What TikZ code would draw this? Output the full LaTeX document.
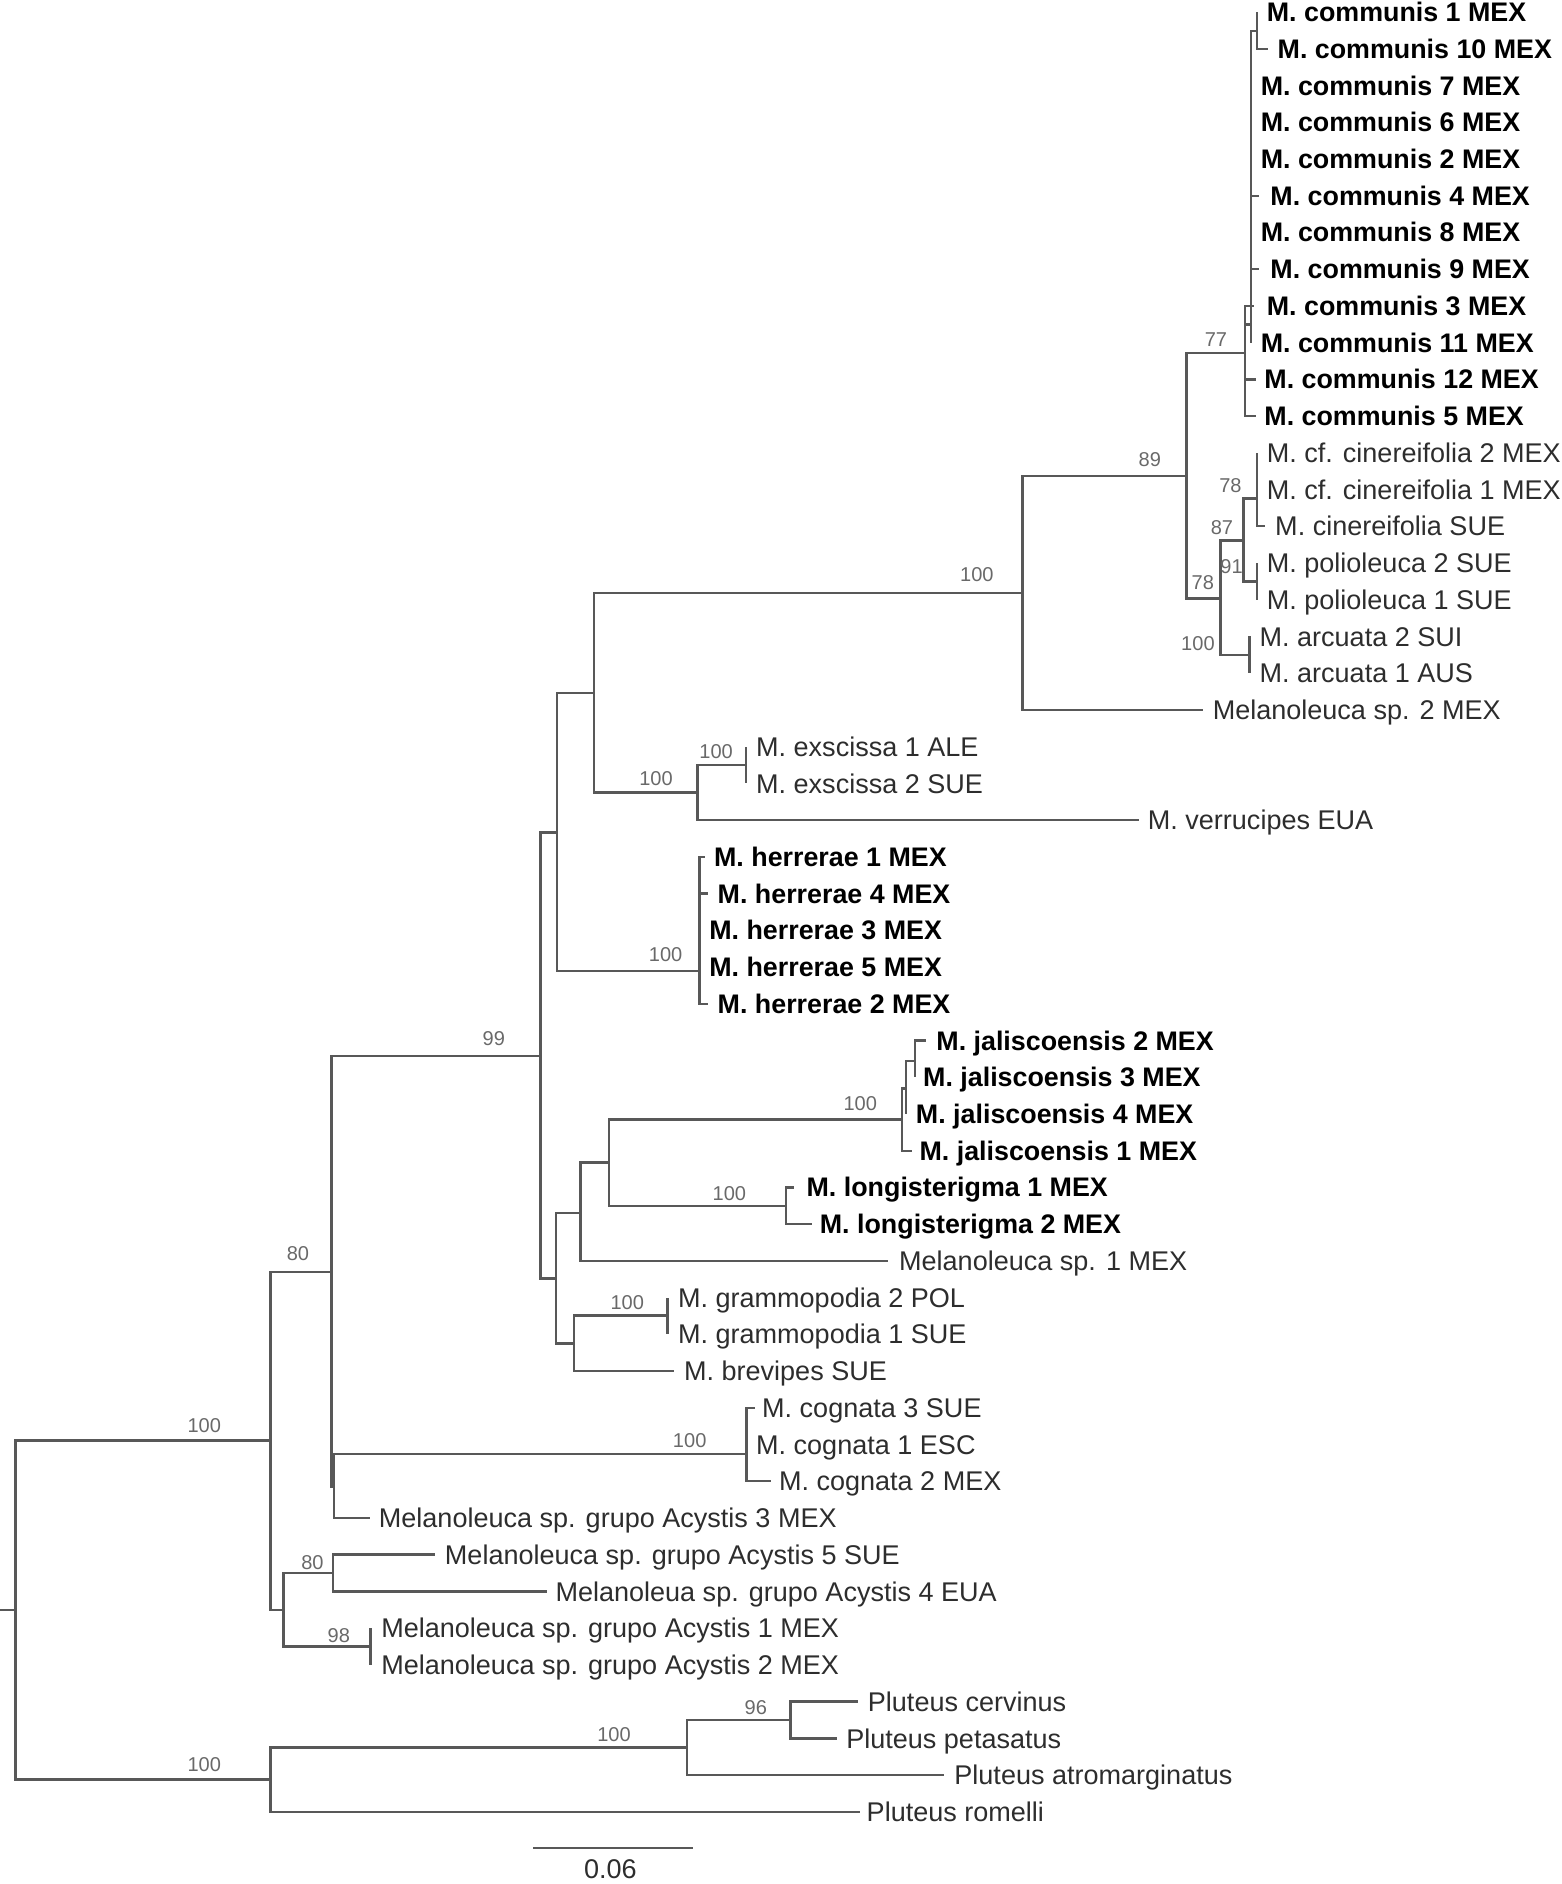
\documentclass[tikz,border=0pt]{standalone}
\usepackage{fontspec}
\setmainfont{Liberation Sans}
\definecolor{linec}{RGB}{88,88,88}
\definecolor{bsc}{RGB}{105,105,105}
\definecolor{txtc}{RGB}{45,45,45}
\newcommand{\lf}[6]{\coordinate (#1) at (#2,#3);\node[#6] (#1t) at ({#4-1},#3) {#5};}
\newcommand{\ed}[2]{\draw[br] (#1) |- (#2);}
\begin{document}
\begin{tikzpicture}[x=0.6pt,y=-0.6pt,
  br/.style={draw=linec,line width=1.2pt,line join=miter},
  leafr/.style={anchor=west,inner sep=0pt,font=\fontsize{13.5pt}{16pt}\selectfont,text=txtc,text height=9.6pt,text depth=0pt},
  leafb/.style={anchor=west,inner sep=0pt,font=\fontsize{13.4pt}{16pt}\selectfont\bfseries,text=black,text height=9.6pt,text depth=0pt},
  bs/.style={inner sep=0pt,font=\fontsize{10pt}{12pt}\selectfont,text=bsc,text height=7.2pt,text depth=0pt}]
\useasboundingbox (0,0) rectangle (1300,1568);

% ---------- leaves ----------
\lf{comm1}{1046}{10.0}{1055}{M. communis 1 MEX}{leafb}
\lf{comm10}{1055}{40.6}{1064}{M. communis 10 MEX}{leafb}
\lf{comm7}{1041}{71.1}{1050}{M. communis 7 MEX}{leafb}
\lf{comm6}{1041}{101.7}{1050}{M. communis 6 MEX}{leafb}
\lf{comm2}{1041}{132.3}{1050}{M. communis 2 MEX}{leafb}
\lf{comm4}{1048}{162.9}{1058}{M. communis 4 MEX}{leafb}
\lf{comm8}{1041}{193.4}{1050}{M. communis 8 MEX}{leafb}
\lf{comm9}{1048}{224.0}{1058}{M. communis 9 MEX}{leafb}
\lf{comm3}{1044}{254.6}{1055}{M. communis 3 MEX}{leafb}
\lf{comm11}{1041}{285.1}{1050}{M. communis 11 MEX}{leafb}
\lf{comm12}{1045}{315.7}{1053}{M. communis 12 MEX}{leafb}
\lf{comm5}{1045}{346.3}{1053}{M. communis 5 MEX}{leafb}
\lf{cfca}{1046}{376.8}{1055}{M. cf. cinereifolia 2 MEX}{leafr}
\lf{cfcb}{1046}{407.4}{1055}{M. cf. cinereifolia 1 MEX}{leafr}
\lf{cins}{1053}{438.0}{1062}{M. cinereifolia SUE}{leafr}
\lf{pola}{1046}{468.6}{1055}{M. polioleuca 2 SUE}{leafr}
\lf{polb}{1046}{499.1}{1055}{M. polioleuca 1 SUE}{leafr}
\lf{arca}{1040}{529.7}{1049}{M. arcuata 2 SUI}{leafr}
\lf{arcb}{1040}{560.3}{1049}{M. arcuata 1 AUS}{leafr}
\lf{sptwo}{1001}{590.8}{1010}{Melanoleuca sp. 2 MEX}{leafr}
\lf{exsa}{621}{621.4}{630}{M. exscissa 1 ALE}{leafr}
\lf{exsb}{621}{652.0}{630}{M. exscissa 2 SUE}{leafr}
\lf{verr}{948}{682.5}{956}{M. verrucipes EUA}{leafr}
\lf{herra}{587}{713.1}{595}{M. herrerae 1 MEX}{leafb}
\lf{herrd}{589}{743.7}{598}{M. herrerae 4 MEX}{leafb}
\lf{herrc}{582}{774.3}{591}{M. herrerae 3 MEX}{leafb}
\lf{herre}{582}{804.8}{591}{M. herrerae 5 MEX}{leafb}
\lf{herrb}{589}{835.4}{598}{M. herrerae 2 MEX}{leafb}
\lf{jalb}{771}{866.0}{780}{M. jaliscoensis 2 MEX}{leafb}
\lf{jalc}{761.6}{896.5}{769}{M. jaliscoensis 3 MEX}{leafb}
\lf{jald}{754}{927.1}{763}{M. jaliscoensis 4 MEX}{leafb}
\lf{jala}{759}{957.7}{766}{M. jaliscoensis 1 MEX}{leafb}
\lf{longa}{661}{988.2}{672}{M. longisterigma 1 MEX}{leafb}
\lf{longb}{676}{1018.8}{683}{M. longisterigma 2 MEX}{leafb}
\lf{spone}{739}{1049.4}{749}{Melanoleuca sp. 1 MEX}{leafr}
\lf{grama}{555.5}{1080.0}{565}{M. grammopodia 2 POL}{leafr}
\lf{gramb}{555.5}{1110.5}{565}{M. grammopodia 1 SUE}{leafr}
\lf{brev}{561}{1141.1}{570}{M. brevipes SUE}{leafr}
\lf{cogc}{628}{1171.7}{635}{M. cognata 3 SUE}{leafr}
\lf{coga}{621.4}{1202.2}{630}{M. cognata 1 ESC}{leafr}
\lf{cogb}{642}{1232.8}{649}{M. cognata 2 MEX}{leafr}
\lf{acc}{308}{1263.4}{316}{Melanoleuca sp. grupo Acystis 3 MEX}{leafr}
\lf{ace}{362}{1293.9}{371}{Melanoleuca sp. grupo Acystis 5 SUE}{leafr}
\lf{acd}{455}{1324.5}{463}{Melanoleua sp. grupo Acystis 4 EUA}{leafr}
\lf{aca}{308.5}{1355.1}{318}{Melanoleuca sp. grupo Acystis 1 MEX}{leafr}
\lf{acb}{308.5}{1385.7}{318}{Melanoleuca sp. grupo Acystis 2 MEX}{leafr}
\lf{cerv}{714}{1416.2}{723}{Pluteus cervinus}{leafr}
\lf{pet}{696.5}{1446.8}{705}{Pluteus petasatus}{leafr}
\lf{atro}{786}{1477.4}{795}{Pluteus atromarginatus}{leafr}
\lf{rom}{715.5}{1508.0}{722}{Pluteus romelli}{leafr}

% ---------- internal nodes ----------
\coordinate (stub) at (0,1340);
\coordinate (root) at (13,1340);
\coordinate (ing) at (225,1199);
\coordinate (plu) at (225,1481);
\coordinate (neighty) at (276,1058.5);
\coordinate (nac) at (236,1340);
\coordinate (nnn) at (450,879);
\coordinate (ncogac) at (278,1237);
\coordinate (ncog) at (621.4,1210);
\coordinate (nacfe) at (277,1309);
\coordinate (nacab) at (308.5,1370.4);
\coordinate (nup) at (463.5,693);
\coordinate (nlow) at (462.6,1064);
\coordinate (nmid) at (494.4,576.6);
\coordinate (nherr) at (582,808);
\coordinate (nbig) at (851,493.5);
\coordinate (nexv) at (580.4,659.6);
\coordinate (nexs) at (621,636.7);
\coordinate (neightynine) at (987.5,396);
\coordinate (nsevensev) at (1036,294);
\coordinate (nseveneight) at (1015.7,498);
\coordinate (neightyseven) at (1035,450);
\coordinate (narc) at (1040,545);
\coordinate (ncin) at (1046,415);
\coordinate (npol) at (1046,484);
\coordinate (ninner) at (1041,270);
\coordinate (ntop) at (1046,26);
\coordinate (njl) at (483,1009.5);
\coordinate (ngb) at (477.5,1118);
\coordinate (njlong) at (507,967.5);
\coordinate (njal) at (750.5,931.6);
\coordinate (nlong) at (654,1003.5);
\coordinate (njk) at (754,906);
\coordinate (njs) at (761.6,883);
\coordinate (ngram) at (555.5,1095);
\coordinate (nplb) at (572,1454.5);
\coordinate (ncp) at (658,1431.5);

% ---------- branches ----------
\draw[br] (stub) -- (root);
\ed{root}{ing} \ed{root}{plu}
\ed{ing}{neighty} \ed{ing}{nac}
\ed{neighty}{nnn} \ed{neighty}{ncogac}
\ed{ncogac}{ncog} \ed{ncogac}{acc}
\ed{ncog}{cogc} \ed{ncog}{coga} \ed{ncog}{cogb}
\ed{nac}{nacfe} \ed{nac}{nacab}
\ed{nacfe}{ace} \ed{nacfe}{acd}
\ed{nacab}{aca} \ed{nacab}{acb}
\ed{nnn}{nup} \ed{nnn}{nlow}
\ed{nup}{nmid} \ed{nup}{nherr}
\ed{nherr}{herra} \ed{nherr}{herrd} \ed{nherr}{herrc} \ed{nherr}{herre} \ed{nherr}{herrb}
\ed{nmid}{nbig} \ed{nmid}{nexv}
\ed{nexv}{nexs} \ed{nexv}{verr}
\ed{nexs}{exsa} \ed{nexs}{exsb}
\ed{nbig}{neightynine} \ed{nbig}{sptwo}
\ed{neightynine}{nsevensev} \ed{neightynine}{nseveneight}
\ed{nseveneight}{neightyseven} \ed{nseveneight}{narc}
\ed{narc}{arca} \ed{narc}{arcb}
\ed{neightyseven}{ncin} \ed{neightyseven}{npol}
\ed{ncin}{cfca} \ed{ncin}{cfcb} \ed{ncin}{cins}
\ed{npol}{pola} \ed{npol}{polb}
\ed{nsevensev}{comm3} \ed{nsevensev}{ninner} \ed{nsevensev}{comm12} \ed{nsevensev}{comm5}
\ed{ninner}{ntop} \ed{ninner}{comm7} \ed{ninner}{comm6} \ed{ninner}{comm2}
\ed{ninner}{comm4} \ed{ninner}{comm8} \ed{ninner}{comm9} \ed{ninner}{comm11}
\ed{ntop}{comm1} \ed{ntop}{comm10}
\ed{nlow}{njl} \ed{nlow}{ngb}
\ed{njl}{njlong} \ed{njl}{spone}
\ed{njlong}{njal} \ed{njlong}{nlong}
\ed{njal}{njk} \ed{njal}{jala}
\ed{njk}{njs} \ed{njk}{jald}
\ed{njs}{jalb} \ed{njs}{jalc}
\ed{nlong}{longa} \ed{nlong}{longb}
\ed{ngb}{ngram} \ed{ngb}{brev}
\ed{ngram}{grama} \ed{ngram}{gramb}
\ed{plu}{nplb} \ed{plu}{rom}
\ed{nplb}{ncp} \ed{nplb}{atro}
\ed{ncp}{cerv} \ed{ncp}{pet}

% ---------- bootstrap values ----------
\node[bs] (bsa) at (170,1186) {100};
\node[bs] (bsb) at (170,1468) {100};
\node[bs] (bsc) at (511,1443) {100};
\node[bs] (bsd) at (629,1421) {96};
\node[bs] (bse) at (248,1043) {80};
\node[bs] (bsf) at (411,864) {99};
\node[bs] (bsg) at (574,1199) {100};
\node[bs] (bsh) at (260,1300) {80};
\node[bs] (bsi) at (282,1361) {98};
\node[bs] (bsj) at (716,918) {100};
\node[bs] (bsk) at (607,993) {100};
\node[bs] (bsl) at (522,1084) {100};
\node[bs] (bsm) at (554,794) {100};
\node[bs] (bsn) at (546,648) {100};
\node[bs] (bso) at (596,625) {100};
\node[bs] (bsp) at (813,478) {100};
\node[bs] (bsq) at (957,382) {89};
\node[bs] (bsr) at (1012,282) {77};
\node[bs] (bss) at (1024,404) {78};
\node[bs] (bst) at (1017,439) {87};
\node[bs] (bsu) at (1025,471) {91};
\node[bs] (bsv) at (1001,485) {78};
\node[bs] (bsw) at (997,535) {100};

% ---------- scale bar ----------
\coordinate (sba) at (444,1538);
\coordinate (sbb) at (577,1538);
\draw[br] (sba) -- (sbb);
\node[leafr,anchor=center] (sbl) at (508,1555) {0.06};
\end{tikzpicture}
\end{document}
